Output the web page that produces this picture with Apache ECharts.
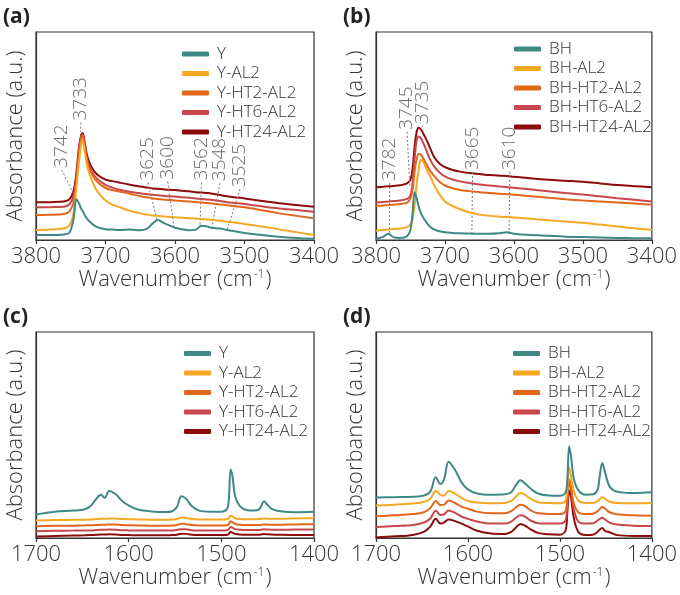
<!DOCTYPE html>
<html>
<head>
<meta charset="UTF-8">
<style>
  html, body { margin: 0; padding: 0; background: #fff; }
  #chart { width: 680px; height: 595px; }
</style>
<script src="https://cdn.jsdelivr.net/npm/echarts@6/dist/echarts.min.js"></script>
</head>
<body>
<div id="chart"></div>
<script>
// ---- panel (a): Y series, OH region ----
var wnA = [3800, 3780, 3760, 3752, 3746, 3742, 3738, 3735, 3733, 3730, 3726, 3720, 3712, 3700, 3690, 3680, 3665, 3650, 3640, 3632,
           3625, 3615, 3600, 3590, 3580, 3570, 3562, 3555, 3548, 3535, 3525, 3510, 3500, 3475, 3450, 3425, 3400];
var aY      = [.024, .024, .027, .035, .10, .196, .175, .15, .14, .12, .10, .08, .062, .052, .05, .048, .05, .047, .055, .08,
               .096, .08, .059, .052, .047, .05, .069, .066, .059, .055, .048, .04, .034, .024, .016, .010, .006];
var aYAL2   = [.048, .05, .056, .07, .13, .25, .38, .46, .48, .43, .35, .29, .235, .19, .17, .158, .14, .128, .122, .118,
               .116, .113, .109, .107, .105, .103, .101, .099, .097, .092, .088, .082, .077, .065, .051, .037, .024];
var aYHT2   = [.12, .121, .125, .138, .18, .28, .42, .49, .50, .45, .37, .32, .28, .25, .24, .233, .222, .21, .205, .2,
               .197, .194, .19, .188, .185, .182, .18, .178, .176, .171, .167, .161, .157, .143, .128, .116, .104];
var aYHT6   = [.157, .158, .16, .172, .21, .30, .43, .495, .506, .46, .38, .33, .295, .265, .252, .242, .232, .225, .22, .217,
               .215, .212, .209, .206, .203, .2, .197, .195, .193, .187, .182, .177, .173, .162, .152, .144, .136];
var aYHT24  = [.181, .182, .185, .195, .235, .32, .45, .505, .514, .47, .40, .35, .315, .29, .283, .276, .266, .257, .252, .248,
               .246, .243, .24, .237, .234, .23, .228, .226, .224, .216, .21, .204, .2, .188, .177, .168, .16];
// [label, text wn, text value, target wn, target value]
var annA = [
  ['3742', 3763, 0.337, 3742.4, 0.196],
  ['3733', 3735.3, 0.565, 3736, 0.52],
  ['3625', 3639, 0.276, 3626, 0.096],
  ['3600', 3610.6, 0.281, 3601.4, 0.059],
  ['3562', 3562, 0.276, 3564, 0.069],
  ['3548', 3535.3, 0.273, 3547, 0.059],
  ['3525', 3506.5, 0.244, 3525, 0.048]
];

// ---- panel (b): BH series, OH region ----
var wnB = [3800, 3790, 3782, 3775, 3765, 3755, 3750, 3747, 3744, 3741, 3738, 3735, 3732, 3728, 3722, 3715, 3708, 3700, 3690, 3680,
           3665, 3650, 3635, 3620, 3610, 3600, 3580, 3550, 3525, 3500, 3475, 3450, 3425, 3400];
var bBH     = [.005, .015, .03, .014, .01, .018, .05, .13, .23, .20, .16, .13, .11, .09, .065, .05, .042, .037, .034, .032,
               .031, .03, .03, .033, .037, .03, .025, .02, .016, .014, .012, .01, .009, .008];
var bBHAL2  = [.045, .048, .051, .053, .055, .062, .075, .10, .17, .27, .34, .386, .38, .35, .31, .26, .22, .185, .165, .15,
               .133, .122, .116, .112, .11, .108, .103, .095, .089, .083, .074, .065, .056, .048];
var bBHHT2  = [.163, .166, .168, .17, .173, .18, .2, .24, .33, .39, .413, .41, .395, .37, .335, .305, .28, .262, .25, .242,
               .235, .23, .226, .222, .22, .218, .212, .203, .196, .19, .185, .18, .175, .169];
var bBHHT6  = [.18, .183, .185, .187, .19, .198, .215, .27, .39, .48, .498, .49, .47, .44, .39, .35, .325, .306, .292, .283,
               .274, .267, .262, .257, .254, .251, .245, .234, .226, .219, .21, .201, .193, .185];
var bBHHT24 = [.254, .256, .258, .26, .263, .272, .29, .34, .45, .52, .54, .532, .515, .49, .445, .395, .368, .35, .338, .33,
               .322, .317, .312, .309, .308, .304, .298, .29, .285, .28, .272, .264, .259, .254];
var annB = [
  ['3782', 3780, 0.274, 3780.8, 0.029],
  ['3745', 3755, 0.52, 3751, 0.26],
  ['3735', 3732, 0.548, 3735.5, 0.536],
  ['3665', 3660, 0.327, 3661, 0.029],
  ['3610', 3606, 0.327, 3607, 0.029]
];

// ---- panels (c) and (d): pyridine region ----
var wnCD = [1700, 1680, 1660, 1648, 1641, 1635, 1630, 1626, 1621, 1614, 1607, 1600, 1590, 1575, 1560, 1553, 1548, 1543, 1538, 1532,
            1524, 1512, 1500, 1494, 1492, 1490, 1488, 1485, 1480, 1472, 1464, 1459, 1457, 1454, 1451, 1446, 1438, 1420, 1400];
var cY      = [.114, .128, .133, .138, .155, .19, .21, .195, .228, .212, .18, .158, .138, .129, .126, .13, .15, .203, .19, .155,
               .133, .128, .128, .14, .18, .333, .3, .2, .155, .135, .133, .14, .155, .179, .165, .142, .131, .125, .127];
var cYAL2   = [.085, .087, .088, .089, .09, .092, .093, .093, .095, .094, .092, .091, .09, .089, .089, .09, .092, .099, .097, .092,
               .09, .09, .09, .091, .095, .109, .105, .096, .092, .091, .091, .092, .093, .095, .094, .093, .093, .095, .096];
var cYHT2   = [.057, .059, .06, .061, .062, .063, .064, .064, .066, .065, .063, .062, .061, .06, .06, .061, .063, .069, .067, .063,
               .061, .061, .061, .062, .066, .081, .077, .068, .064, .063, .063, .063, .064, .066, .065, .064, .064, .066, .067];
var cYHT6   = [.033, .035, .036, .037, .037, .039, .04, .04, .041, .04, .038, .037, .036, .036, .036, .037, .039, .043, .042, .038,
               .037, .037, .037, .038, .042, .054, .05, .043, .04, .039, .039, .039, .04, .042, .041, .04, .04, .041, .041];
var cYHT24  = [.007, .01, .012, .013, .014, .016, .017, .017, .018, .017, .015, .014, .013, .013, .013, .014, .016, .021, .02, .016,
               .014, .014, .014, .015, .019, .03, .026, .02, .017, .016, .016, .016, .017, .019, .018, .017, .016, .015, .015];
var dBH     = [.196, .198, .2, .206, .225, .295, .262, .285, .37, .33, .27, .236, .216, .21, .212, .222, .255, .28, .265, .24,
               .216, .206, .205, .22, .28, .444, .4, .29, .232, .21, .212, .235, .29, .364, .32, .25, .225, .218, .222];
var dBHAL2  = [.158, .162, .168, .175, .19, .229, .21, .205, .229, .215, .195, .18, .172, .169, .17, .18, .2, .219, .21, .19,
               .174, .17, .169, .18, .24, .343, .3, .23, .182, .17, .17, .178, .188, .198, .19, .176, .17, .169, .17];
var dBHHT2  = [.106, .11, .116, .125, .145, .18, .16, .162, .182, .17, .152, .142, .128, .12, .12, .13, .148, .161, .155, .135,
               .12, .117, .116, .13, .19, .287, .25, .17, .125, .116, .118, .13, .14, .15, .143, .125, .115, .11, .108];
var dBHHT6  = [.053, .058, .063, .075, .095, .132, .112, .115, .134, .122, .104, .093, .08, .07, .07, .08, .097, .11, .104, .085,
               .072, .07, .07, .085, .16, .274, .24, .14, .08, .07, .072, .085, .092, .098, .09, .075, .065, .06, .058];
var dBHHT24 = [.003, .008, .015, .03, .055, .093, .07, .075, .09, .082, .07, .056, .035, .022, .02, .03, .05, .068, .06, .042,
               .025, .018, .016, .035, .12, .23, .2, .1, .03, .015, .016, .03, .04, .048, .035, .028, .014, .01, .01];

var namesY = ['Y', 'Y-AL2', 'Y-HT2-AL2', 'Y-HT6-AL2', 'Y-HT24-AL2'];
var namesBH = ['BH', 'BH-AL2', 'BH-HT2-AL2', 'BH-HT6-AL2', 'BH-HT24-AL2'];
var colors = ['#3e8985', '#f6a724', '#e2661b', '#c9464b', '#8c0c0c'];

var FONT = '"Open Sans", "Noto Sans", sans-serif';
var TXT = '#333';

// panel layout
var panels = [
  { tag: '(a)', left: 36, top: 32, height: 208, min: 3400, max: 3800, wn: wnA, ys: [aY, aYAL2, aYHT2, aYHT6, aYHT24], names: namesY, ann: annA, legLeft: 177, legTop: 40.5 },
  { tag: '(b)', left: 376, top: 32, height: 208, min: 3400, max: 3800, wn: wnB, ys: [bBH, bBHAL2, bBHHT2, bBHHT6, bBHHT24], names: namesBH, ann: annB, legLeft: 509, legTop: 35.5 },
  { tag: '(c)', left: 36, top: 332, height: 206, min: 1400, max: 1700, wn: wnCD, ys: [cY, cYAL2, cYHT2, cYHT6, cYHT24], names: namesY, ann: [], legLeft: 179, legTop: 340 },
  { tag: '(d)', left: 376, top: 332, height: 206, min: 1400, max: 1700, wn: wnCD, ys: [dBH, dBHAL2, dBHHT2, dBHHT6, dBHHT24], names: namesBH, ann: [], legLeft: 508, legTop: 340 }
];

var grid = [], xAxis = [], yAxis = [], series = [], legend = [], title = [];

panels.forEach(function (p, k) {
  grid.push({ left: p.left, top: p.top, width: 278, height: p.height, show: true, borderColor: '#333', borderWidth: 1.2, backgroundColor: 'transparent' });
  xAxis.push({
    type: 'value', gridIndex: k, min: p.min, max: p.max, interval: 100, inverse: true,
    name: '{t|Wavenumber (cm}{s|-1}{t|)}', nameLocation: 'middle', nameGap: 22,
    nameTextStyle: { rich: { t: { fontFamily: FONT, fontSize: 22, color: TXT, fontWeight: 300 }, s: { fontFamily: FONT, fontSize: 12, color: TXT, fontWeight: 300, verticalAlign: 'top', padding: [0, 1, 0, 1] } } },
    axisLine: { show: true, lineStyle: { color: '#333', width: 1.2 } },
    axisTick: { show: true, length: 4, lineStyle: { color: '#333', width: 1.2 } },
    axisLabel: { fontFamily: FONT, fontSize: 22, color: TXT, fontWeight: 300, margin: 6, formatter: function (v) { return String(v); } },
    splitLine: { show: false }
  });
  yAxis.push({
    type: 'value', gridIndex: k, min: 0, max: 1,
    name: 'Absorbance (a.u.)', nameLocation: 'middle', nameGap: 9, nameRotate: 90,
    nameTextStyle: { fontFamily: FONT, fontSize: 22, color: TXT, fontWeight: 300 },
    axisLine: { show: true, lineStyle: { color: '#333', width: 1.2 } },
    axisTick: { show: false }, axisLabel: { show: false }, splitLine: { show: false }
  });
  p.names.forEach(function (nm, i) {
    series.push({
      name: nm, type: 'line', xAxisIndex: k, yAxisIndex: k,
      data: p.wn.map(function (w, j) { return [w, p.ys[i][j]]; }),
      showSymbol: false, smooth: 0.35, z: 3 + (4 - i),
      lineStyle: { color: colors[i], width: 2 }, itemStyle: { color: colors[i] }
    });
  });
  if (p.ann.length) {
    series.push({
      name: 'ann' + k, type: 'scatter', xAxisIndex: k, yAxisIndex: k, symbolSize: 0, z: 10, silent: true,
      data: p.ann.map(function (a) { return { value: [a[1], a[2]], label: { formatter: a[0] } }; }),
      label: { show: true, position: 'top', distance: 2, rotate: 90, align: 'left', verticalAlign: 'middle', fontFamily: FONT, fontSize: 19, color: '#444', fontWeight: 300 },
      markLine: {
        silent: true, symbol: ['none', 'none'], label: { show: false },
        lineStyle: { type: [2, 2], color: '#777', width: 1 },
        data: p.ann.map(function (a) { return [{ coord: [a[1], a[2]] }, { coord: [a[3], a[4]] }]; })
      }
    });
  }
  legend.push({
    data: p.names, left: p.legLeft, top: p.legTop, orient: 'vertical', itemGap: 2.5,
    icon: 'roundRect', itemWidth: 27, itemHeight: 5,
    textStyle: { fontFamily: FONT, fontSize: 17, color: TXT, fontWeight: 300, lineHeight: 17, padding: [0, 0, 0, 3] }
  });
  title.push({ text: p.tag, left: p.left - 33, top: p.top - 25, padding: 0, textStyle: { fontFamily: FONT, fontSize: 21, fontWeight: 'bold', color: '#222' } });
});

var chart = echarts.init(document.getElementById('chart'));
chart.setOption({
  animation: false,
  title: title,
  grid: grid,
  xAxis: xAxis,
  yAxis: yAxis,
  legend: legend,
  series: series
});
</script>
</body>
</html>
